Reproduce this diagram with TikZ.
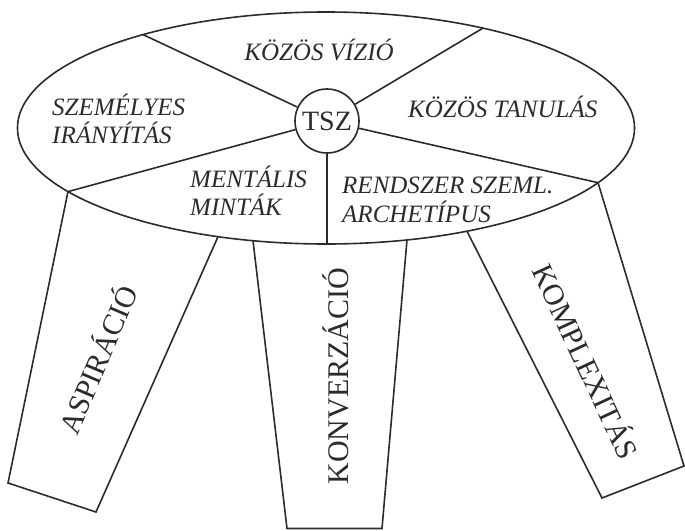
\documentclass[tikz,border=0pt]{standalone}
\usepackage{fontspec}
\setmainfont{Liberation Serif}
\definecolor{ink}{HTML}{2B2B2B}
\begin{document}
\begin{tikzpicture}[x=1pt,y=-1pt,
  line/.style={draw=ink,line width=1.6pt,line join=miter},
  seg/.style={font=\fontsize{25}{28}\selectfont\itshape,text=ink,inner sep=0pt},
  leg/.style={font=\fontsize{30}{32}\selectfont,text=ink,inner sep=0pt,anchor=base},
  hub/.style={circle,draw=ink,line width=1.6pt,fill=white,minimum size=64pt,inner sep=0pt,font=\fontsize{28}{30}\selectfont,text=ink}]
\useasboundingbox (0,0) rectangle (685,530);
% ellipse points
\coordinate (eul) at (143,34.6);
\coordinate (eur) at (483,28.1);
\coordinate (er) at (598,182.7);
\coordinate (ell) at (68,191.6);
\coordinate (eb) at (327,244);
\coordinate (lltr) at (218,236.7);
\coordinate (mtl) at (253,240.7);
\coordinate (mtr) at (407,239.9);
\coordinate (rtl) at (467,231.2);
% leg bottoms
\coordinate (lbl) at (8,483);
\coordinate (lbr) at (96,512);
\coordinate (mbl) at (287,528.5);
\coordinate (mbr) at (382,528.5);
\coordinate (rbl) at (602,498);
\coordinate (rbr) at (684,466);
% legs
\draw[line] (ell) -- (lbl) -- (lbr) -- (lltr);
\draw[line] (mtl) -- (mbl) -- (mbr) -- (mtr);
\draw[line] (rtl) -- (rbl) -- (rbr) -- (er);
% ellipse
\draw[line] (326,128) ellipse [x radius=308.5, y radius=116];
% hub
\node[hub] (tsz) at (327,121) {TSZ};
\draw[line] (tsz) -- (eul);
\draw[line] (tsz) -- (eur);
\draw[line] (tsz) -- (er);
\draw[line] (tsz) -- (ell);
\draw[line] (tsz.south) -- (eb);
% segment labels (anchor = baseline of last line)
\node[seg,anchor=base] (vizio) at (319,60) {KÖZÖS VÍZIÓ};
\node[seg,anchor=base west,align=left] (szem) at (52,143) {SZEMÉLYES\\IRÁNYÍTÁS};
\node[seg,anchor=base west,align=left] (ment) at (190,215) {MENTÁLIS\\MINTÁK};
\node[seg,anchor=base west] (tan) at (408,117) {KÖZÖS TANULÁS};
\node[seg,anchor=base west,align=left,font=\fontsize{25}{29}\selectfont\itshape] (rend) at (342,222) {RENDSZER SZEML.\\ARCHETÍPUS};
% leg labels
\node[leg,rotate=67] (asp) at (108,364) {ASPIRÁCIÓ};
\node[leg,rotate=90] (konv) at (348,376) {KONVERZÁCIÓ};
\node[leg,rotate=-65] (komp) at (576,366) {KOMPLEXITÁS};
\end{tikzpicture}
\end{document}
